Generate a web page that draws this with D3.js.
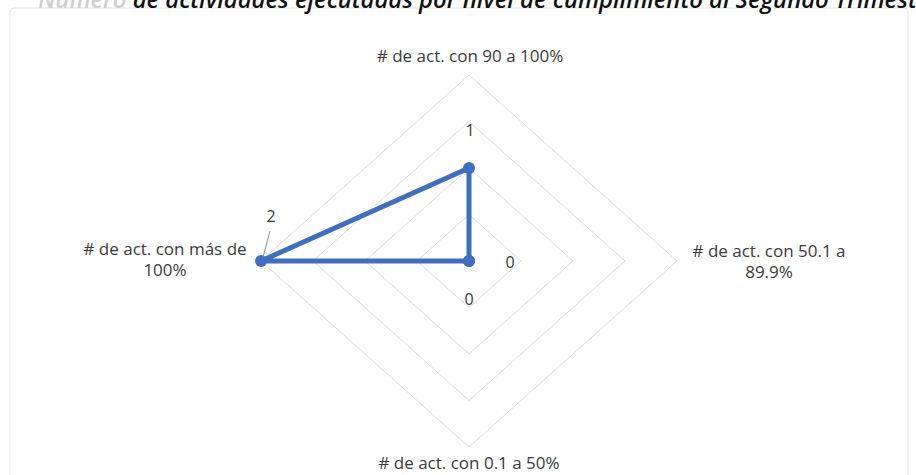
<!DOCTYPE html>
<html>
<head>
<meta charset="utf-8">
<script src="https://cdn.jsdelivr.net/npm/d3@7"></script>
<style>
  html, body { margin: 0; padding: 0; background: #fff; }
  svg { display: block; }
</style>
</head>
<body>
<svg id="chart" width="916" height="475"></svg>
<script>
// ---- data ----
const categories = [
  ["# de act. con 90 a 100%"],
  ["# de act. con 50.1 a", "89.9%"],
  ["# de act. con 0.1 a 50%"],
  ["# de act. con más de", "100%"]
];
const values = [1, 0, 0, 2];
const ringTicks = [0.5, 1, 1.5, 2];
const titleFaded = "Número ";
const titleText = "de actividades ejecutadas por nivel de cumplimiento al Segundo Trimestre";

// ---- layout ----
const cx = 469, cy = 261;
const svg = d3.select("#chart");
const font = "'Open Sans', sans-serif";

// elliptical radar (source picture is stretched horizontally)
const rX = d3.scaleLinear().domain([0, 2]).range([0, 208]);
const rY = d3.scaleLinear().domain([0, 2]).range([0, 186]);
const angle = d3.scalePoint().domain(d3.range(categories.length))
  .range([0, 2 * Math.PI * (categories.length - 1) / categories.length]);
const px = (i, v) => cx + Math.sin(angle(i)) * rX(v);
const py = (i, v) => cy - Math.cos(angle(i)) * rY(v);

// chart frame
svg.append("rect")
  .attr("x", 10).attr("y", 8).attr("width", 898).attr("height", 480)
  .attr("rx", 4).attr("fill", "#fff").attr("stroke", "#e3e3e3").attr("stroke-width", 1);

// title (cut at top of picture, as in the source)
const title = svg.append("text")
  .attr("x", 38).attr("y", 8)
  .attr("font-family", font).attr("font-style", "italic").attr("font-weight", 600)
  .attr("font-size", 23.8);
title.append("tspan").attr("fill", "#cfcfcf").text(titleFaded);
title.append("tspan").attr("fill", "#111").text(titleText);

// grid rings
const line = d3.line();
ringTicks.forEach(t => {
  const pts = categories.map((c, i) => [px(i, t), py(i, t)]);
  svg.append("path")
    .attr("d", line(pts) + "Z")
    .attr("fill", "none").attr("stroke", "#dcdcdc").attr("stroke-width", 1);
});

// category labels
const labelPos = [
  {x: 470, y: 62},
  {x: 769, y: 257},
  {x: 469, y: 469},
  {x: 165, y: 255}
];
categories.forEach((lines, i) => {
  const p = labelPos[i];
  const t = svg.append("text")
    .attr("font-family", font).attr("font-size", 17).attr("fill", "#3a3a3a")
    .attr("text-anchor", "middle");
  lines.forEach((s, k) => {
    t.append("tspan").attr("x", p.x).attr("y", p.y + k * 21).text(s);
  });
});

// series
const seriesColor = "#3f6fbe";
const pts = values.map((v, i) => [px(i, v), py(i, v)]);
svg.append("path")
  .attr("d", line(pts) + "Z")
  .attr("fill", "none").attr("stroke", seriesColor).attr("stroke-width", 5)
  .attr("stroke-linejoin", "round");
svg.selectAll("circle.pt").data(values).enter().append("circle")
  .attr("class", "pt")
  .attr("cx", (v, i) => px(i, v)).attr("cy", (v, i) => py(i, v))
  .attr("r", 6).attr("fill", seriesColor);

// data labels
const dlOff = [
  {dx: 1, dy: -32},
  {dx: 41, dy: 7},
  {dx: 0, dy: 44},
  {dx: 10, dy: -39}
];
values.forEach((v, i) => {
  svg.append("text")
    .attr("x", px(i, v) + dlOff[i].dx).attr("y", py(i, v) + dlOff[i].dy)
    .attr("text-anchor", "middle")
    .attr("font-family", font).attr("font-size", 16).attr("fill", "#3a3a3a")
    .text(v);
});
// leader line for the "2" label
svg.append("line")
  .attr("x1", px(3, values[3]) + 2).attr("y1", py(3, values[3]) - 4)
  .attr("x2", px(3, values[3]) + 9).attr("y2", py(3, values[3]) - 30)
  .attr("stroke", "#8c8c8c").attr("stroke-width", 1);
</script>
</body>
</html>
